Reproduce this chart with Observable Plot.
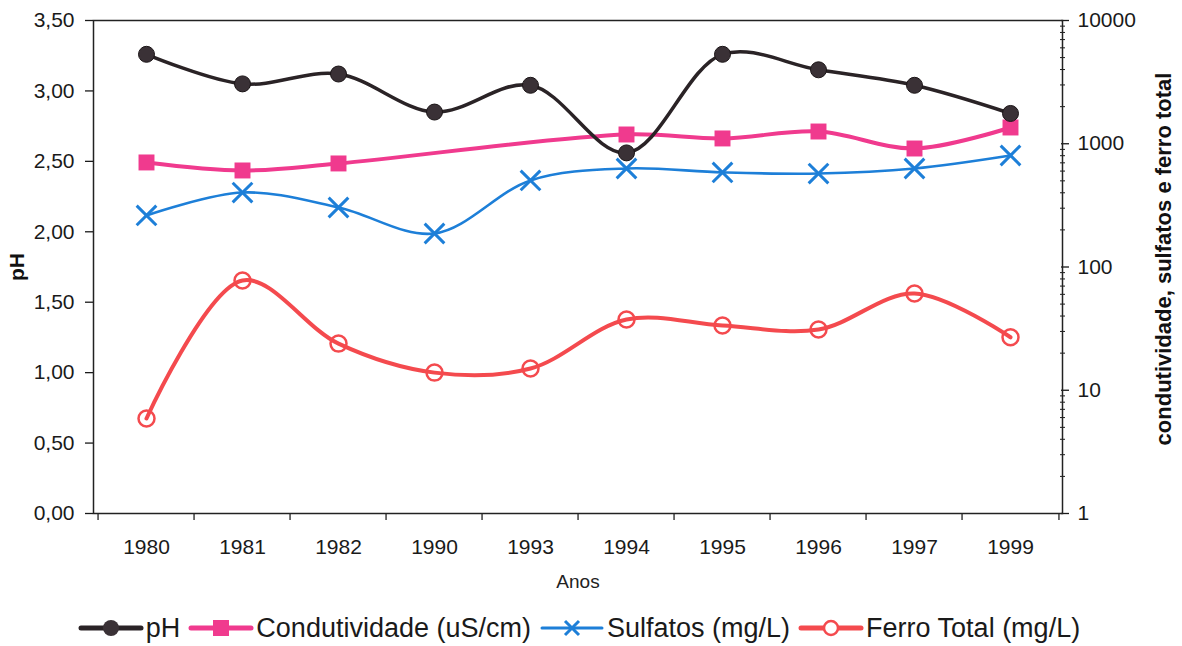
<!DOCTYPE html>
<html>
<head>
<meta charset="utf-8">
<script src="https://cdn.jsdelivr.net/npm/d3@7"></script>
<script src="https://cdn.jsdelivr.net/npm/@observablehq/plot@0.6"></script>
<style>
  html, body { margin: 0; padding: 0; background: #fff; }
  body { width: 1182px; height: 646px; overflow: hidden; font-family: "Liberation Sans", Arial, sans-serif; }
  #chart g[aria-label$="tick label"] { font-size: 21px; }
  #legend { display: flex; justify-content: center; align-items: center; height: 46px; font-size: 27px; color: #1a1a1a; margin-top: 5px; padding-right: 24px; }
  #legend .item { display: flex; align-items: center; margin: 0 4px; }
  #legend svg { margin-right: 2px; }
</style>
</head>
<body>
<div id="chart"></div>
<div id="legend"></div>
<script>
// ---- data ----
const years = ["1980", "1981", "1982", "1990", "1993", "1994", "1995", "1996", "1997", "1999"];
const ph = [3.26, 3.05, 3.12, 2.85, 3.04, 2.56, 3.26, 3.15, 3.04, 2.84];
const condutividade = [705, 607, 692, null, null, 1189, 1104, 1257, 915, 1355];
const sulfatos = [262, 402, 304, 187, 504, 630, 585, 573, 630, 803];
const ferro = [5.9, 77.7, 23.9, 13.9, 15.0, 37.5, 33.5, 31.1, 61, 26.9];

const leftTicks = [0, 0.5, 1, 1.5, 2, 2.5, 3, 3.5];
const rightTicks = [1, 10, 100, 1000, 10000];
const rightMinor = [2, 3, 4, 5, 6, 7, 8, 9, 20, 30, 40, 50, 60, 70, 80, 90, 200, 300, 400, 500, 600, 700, 800, 900, 2000, 3000, 4000, 5000, 6000, 7000, 8000, 9000];

const seriesNames = ["pH", "Condutividade (uS/cm)", "Sulfatos (mg/L)", "Ferro Total (mg/L)"];
const colors = {ph: "#2a2326", cond: "#f03a8e", sulf: "#1d7fd8", ferro: "#f44a4e"};

// right (log) axis mapped onto the left pH range: 1..10000 -> 0..3.5
const phMax = 3.5;
const toLeft = v => Math.log10(v) / 4 * phMax;

const rows = years.map((y, i) => ({year: y, ph: ph[i], cond: condutividade[i], sulf: sulfatos[i], ferro: ferro[i]}));
const condRows = rows.filter(d => d.cond != null);

const W = 1182, H = 600;
const mL = 93, mR = 120, mT = 20, mB = 87;
const step = (W - mL - mR) / years.length;
const font = "Liberation Sans, Arial, sans-serif";

const chart = Plot.plot({
  width: W, height: H,
  marginLeft: mL, marginRight: mR, marginTop: mT, marginBottom: mB,
  style: {fontFamily: font, fontSize: "21px", color: "#1a1a1a", background: "#fff"},
  x: {type: "point", domain: years, padding: 0.5},
  y: {domain: [0, phMax]},
  marks: [
    // x axis labels and boundary ticks
    Plot.axisX({ticks: years, tickSize: 0, tickPadding: 26, label: null, fontSize: 21}),
    Plot.ruleX(years, {x: d => d, dx: -step / 2, y1: 0, y2: -0.05, stroke: "#222", strokeWidth: 1.3}),
    Plot.ruleX(years.slice(-1), {x: d => d, dx: step / 2, y1: 0, y2: -0.05, stroke: "#222", strokeWidth: 1.3}),
    // left axis
    Plot.axisY({anchor: "left", ticks: leftTicks, tickSize: 8, tickPadding: 11, label: null,
      tickFormat: d => d.toFixed(2).replace(".", ","), fontSize: 21, strokeWidth: 1.3}),
    // right axis (log)
    Plot.axisY({anchor: "right", ticks: rightTicks.map(toLeft), tickSize: 8, dx: -2, tickPadding: 9, label: null,
      tickFormat: d => String(Math.round(Math.pow(10, d / phMax * 4))), fontSize: 21, strokeWidth: 1.3}),
    Plot.axisY({anchor: "right", ticks: rightMinor.map(toLeft), tickSize: 5, dx: -3, label: null,
      tickFormat: () => "", strokeWidth: 1}),
    Plot.frame({stroke: "#222", strokeWidth: 1.5}),
    // axis titles
    Plot.text(["pH"], {frameAnchor: "left", textAnchor: "middle", dx: -76, rotate: -90, fontWeight: "bold", fontSize: 21, fill: "#111"}),
    Plot.text(["condutividade, sulfatos e ferro total"], {frameAnchor: "right", textAnchor: "middle", dx: 101, dy: -8, rotate: -90, fontWeight: "bold", fontSize: 22, fill: "#111"}),
    Plot.text(["Anos"], {frameAnchor: "bottom", dy: 74, fontSize: 19, fill: "#222"}),
    // series
    Plot.line(rows, {x: "year", y: d => toLeft(d.ferro), stroke: colors.ferro, strokeWidth: 4, curve: "catmull-rom"}),
    Plot.dot(rows, {x: "year", y: d => toLeft(d.ferro), r: 8, stroke: colors.ferro, strokeWidth: 2.5, fill: "none"}),
    Plot.line(rows, {x: "year", y: d => toLeft(d.sulf), stroke: colors.sulf, strokeWidth: 2.6, curve: "catmull-rom"}),
    Plot.dot(rows, {x: "year", y: d => toLeft(d.sulf), symbol: "times", r: 9, stroke: colors.sulf, strokeWidth: 3}),
    Plot.line(condRows, {x: "year", y: d => toLeft(d.cond), stroke: colors.cond, strokeWidth: 4, curve: "catmull-rom"}),
    Plot.dot(condRows, {x: "year", y: d => toLeft(d.cond), symbol: "square", r: 9, fill: colors.cond}),
    Plot.line(rows, {x: "year", y: "ph", stroke: colors.ph, strokeWidth: 3.5, curve: "catmull-rom"}),
    Plot.dot(rows, {x: "year", y: "ph", r: 8, fill: "#3a3136", stroke: "#1b1517", strokeWidth: 1})
  ]
});
document.getElementById("chart").appendChild(chart);

// legend
const legend = d3.select("#legend");
const swatches = [
  {name: seriesNames[0], color: colors.ph, lw: 5, marker: "circleFill"},
  {name: seriesNames[1], color: colors.cond, lw: 5, marker: "square"},
  {name: seriesNames[2], color: colors.sulf, lw: 3, marker: "times"},
  {name: seriesNames[3], color: colors.ferro, lw: 5, marker: "circleOpen"}
];
for (const s of swatches) {
  const it = legend.append("div").attr("class", "item");
  const svg = it.append("svg").attr("width", 66).attr("height", 24);
  svg.append("line").attr("x1", 3).attr("x2", 63).attr("y1", 12).attr("y2", 12)
    .attr("stroke", s.color).attr("stroke-width", s.lw).attr("stroke-linecap", "round");
  if (s.marker === "circleFill") svg.append("circle").attr("cx", 33).attr("cy", 12).attr("r", 8).attr("fill", "#3a3136");
  if (s.marker === "square") svg.append("rect").attr("x", 25).attr("y", 4).attr("width", 16).attr("height", 16).attr("fill", s.color);
  if (s.marker === "times") svg.append("path").attr("d", "M26,5L40,19M40,5L26,19").attr("stroke", s.color).attr("stroke-width", 3);
  if (s.marker === "circleOpen") svg.append("circle").attr("cx", 33).attr("cy", 12).attr("r", 7).attr("fill", "#fff").attr("stroke", s.color).attr("stroke-width", 2.5);
  it.append("span").text(s.name);
}
</script>
</body>
</html>
